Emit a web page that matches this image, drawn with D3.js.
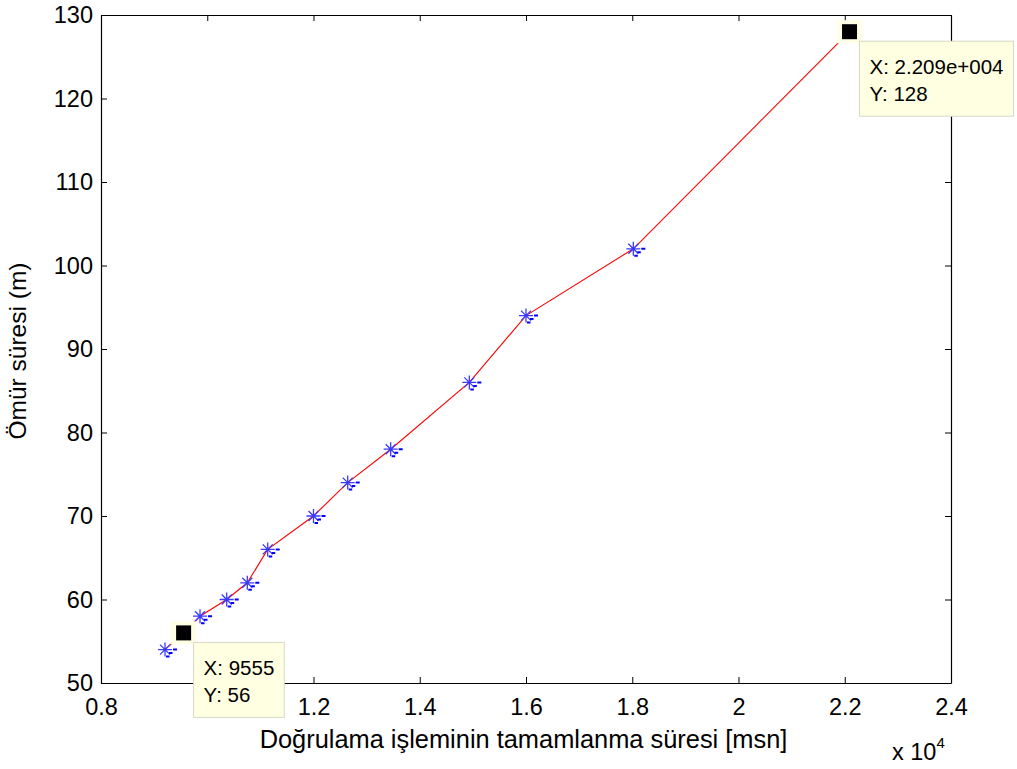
<!DOCTYPE html>
<html>
<head>
<meta charset="utf-8">
<script src="https://cdn.jsdelivr.net/npm/d3@7"></script>
<style>
  html, body { margin: 0; padding: 0; background: #fff; }
  svg { display: block; font-family: "Liberation Sans", Arial, sans-serif; }
</style>
</head>
<body>
<svg id="chart" width="1017" height="769"></svg>
<script>
// Measured completion time (msn) and lifetime (m)
const completionTime = [9205, 9555, 9864, 10366, 10754, 11138, 12000, 12644, 13453, 14933, 16000, 18020, 22090];
const lifetime       = [54,   56,   58,   60,    62,    66,    70,    74,    78,    86,    94,    102,   128];

const xTicks = [8000, 10000, 12000, 14000, 16000, 18000, 20000, 22000, 24000];
const xTickLabels = ["0.8", "1", "1.2", "1.4", "1.6", "1.8", "2", "2.2", "2.4"];
const yTicks = [50, 60, 70, 80, 90, 100, 110, 120, 130];

// Data tips shown on the plot: index into the series and their text lines
const tipIndex = [1, 12];
const tipLines = [["X: 9555", "Y: 56"], ["X: 2.209e+004", "Y: 128"]];

const svg = d3.select("#chart");
const box = { left: 101, right: 951, top: 15, bottom: 683 };

const x = d3.scaleLinear().domain([8000, 24000]).range([box.left, box.right]);
const y = d3.scaleLinear().domain([50, 130]).range([box.bottom, box.top]);

// Axes frame with inward ticks on all four sides
const tickLen = 6;
const tickFont = 23.5;
const labelFont = 25.4;

const bottomAxis = d3.axisBottom(x).tickValues(xTicks).tickSizeInner(-tickLen).tickSizeOuter(0)
  .tickFormat((d, i) => xTickLabels[i]).tickPadding(15);
const topAxis = d3.axisTop(x).tickValues(xTicks).tickSizeInner(-tickLen).tickSizeOuter(0).tickFormat("");
const leftAxis = d3.axisLeft(y).tickValues(yTicks).tickSizeInner(-tickLen).tickSizeOuter(0).tickPadding(8);
const rightAxis = d3.axisRight(y).tickValues(yTicks).tickSizeInner(-tickLen).tickSizeOuter(0).tickFormat("");

function styleAxis(g) {
  g.selectAll("path").attr("stroke", "#000").attr("stroke-width", 1.2);
  g.selectAll("line").attr("stroke", "#000").attr("stroke-width", 1);
  g.selectAll("text").attr("fill", "#000").attr("font-size", tickFont)
    .attr("font-family", "Liberation Sans, Arial, sans-serif");
}

svg.append("g").attr("transform", `translate(0,${box.bottom})`).call(bottomAxis).call(styleAxis);
svg.append("g").attr("transform", `translate(0,${box.top})`).call(topAxis).call(styleAxis);
svg.append("g").attr("transform", `translate(${box.left},0)`).call(leftAxis).call(styleAxis);
svg.append("g").attr("transform", `translate(${box.right},0)`).call(rightAxis).call(styleAxis);

// Axis titles
svg.append("text")
  .attr("x", 523.5).attr("y", 748)
  .attr("text-anchor", "middle").attr("font-size", labelFont).attr("fill", "#000")
  .text("Doğrulama işleminin tamamlanma süresi [msn]");

svg.append("text")
  .attr("transform", `translate(26,351) rotate(-90)`)
  .attr("text-anchor", "middle").attr("font-size", 24.5).attr("fill", "#000")
  .text("Ömür süresi (m)");

// Exponent label for the x axis
const expo = svg.append("text").attr("x", 892).attr("y", 760).attr("font-size", tickFont).attr("fill", "#000");
expo.append("tspan").text("x 10");
expo.append("tspan").attr("dy", -12).attr("font-size", 15).text("4");

// Red connecting line
const line = d3.line().x((d, i) => x(completionTime[i])).y(d => y(d));
svg.append("path").datum(lifetime)
  .attr("d", line).attr("fill", "none").attr("stroke", "#ff0000").attr("stroke-width", 1.1);

// Blue asterisk markers
const marks = svg.append("g").selectAll("g").data(lifetime).join("g")
  .attr("transform", (d, i) => `translate(${x(completionTime[i])},${y(d)})`)
  .attr("stroke", "#0000ff").attr("fill", "none");
marks.append("path").attr("stroke-width", 1.3).attr("stroke", "#3a3aff")
  .attr("d", "M-7,0H7M0,-7V7M-5,-5L5,5M-5,5L5,-5");
marks.append("path").attr("stroke-width", 2)
  .attr("d", "M8,0H12M4,3.5H7.5M1,7H4.5");

// Data tips: black square marker and yellow text box
tipIndex.forEach((idx, k) => {
  const px = x(completionTime[idx]), py = y(lifetime[idx]);
  svg.append("rect")
    .attr("x", px - 12.5).attr("y", py - 11.5).attr("width", 25).attr("height", 23)
    .attr("fill", "#ffffe6").attr("stroke", "none");
  svg.append("rect")
    .attr("x", px - 7.5).attr("y", py - 7.5).attr("width", 15).attr("height", 15)
    .attr("fill", "#000");

  const bx = px + 10, by = py + 9.5;
  const lines = tipLines[k];
  const g = svg.append("g").attr("transform", `translate(${bx},${by})`);
  const bg = g.append("rect").attr("fill", "#ffffe1").attr("stroke", "#d8d8c8").attr("stroke-width", 1);
  const t = g.selectAll("text").data(lines).join("text")
    .attr("x", 10).attr("y", (d, i) => 33 + i * 26.5)
    .attr("font-size", 20.5).attr("fill", "#000").text(d => d);
  let w = 0;
  t.each(function () { w = Math.max(w, this.getComputedTextLength()); });
  bg.attr("width", w + 20).attr("height", 75);
});
</script>
</body>
</html>
